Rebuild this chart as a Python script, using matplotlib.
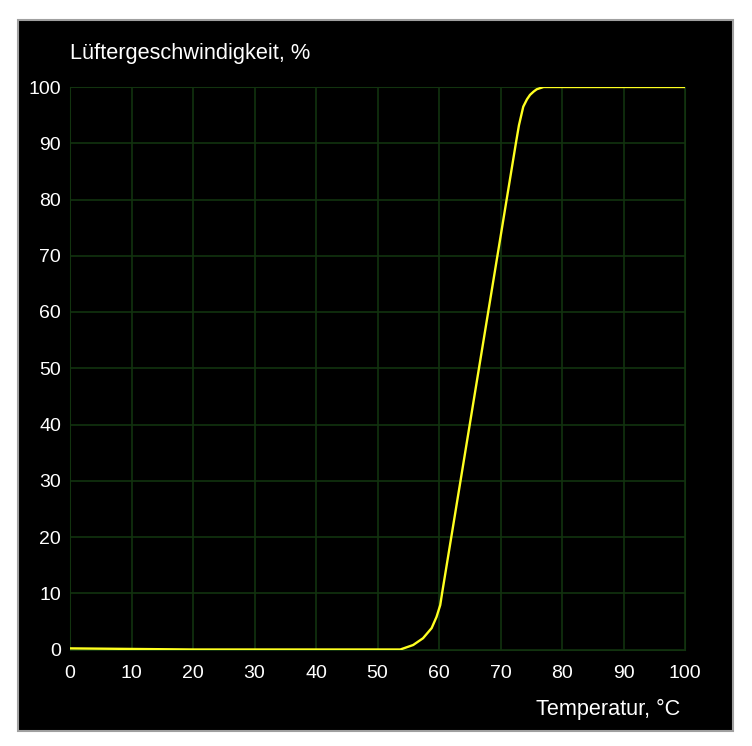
import matplotlib.pyplot as plt
from matplotlib.patches import Rectangle

# Luefterkurve (Temperatur in °C, Drehzahl in %)
temp = [0, 10, 20, 30, 40, 50, 53.7, 55.8, 57.4, 58.8, 59.6, 60.2, 60.5,
        66.5, 72.5, 73, 73.7, 74.3, 74.8, 75.4, 75.9, 77, 80, 90, 100]
speed = [0.2, 0.1, 0, 0, 0, 0, 0, 0.8, 2.0, 3.8, 5.8, 7.9, 10,
         50, 90, 93.2, 96.5, 97.8, 98.6, 99.2, 99.6, 100, 100, 100, 100]

xticks = list(range(0, 101, 10))
yticks = list(range(0, 101, 10))

plt.rcParams['font.family'] = ['Liberation Sans', 'DejaVu Sans']

fig = plt.figure(figsize=(7.52, 7.46), dpi=100)
fig.patch.set_facecolor('white')

# schwarzer Hintergrund mit grauem Rand
fig.patches.append(Rectangle((18 / 752, 1 - 731 / 746), 715 / 752, 711 / 746,
                             transform=fig.transFigure, facecolor='black',
                             edgecolor='#a0a0a0', linewidth=1.5, zorder=-1))

ax = fig.add_axes([70 / 752, 1 - 649.5 / 746, 615 / 752, 562.5 / 746])
ax.set_facecolor('black')
ax.plot(temp, speed, color='#ffff20', linewidth=1.7, zorder=3)

ax.set_xlim(0, 100)
ax.set_ylim(0, 100)
ax.set_xticks(xticks)
ax.set_yticks(yticks)
ax.grid(True, color='#12330f', linewidth=1.2)
ax.tick_params(colors='white', labelsize=14, length=0)
ax.tick_params(axis='x', pad=11)
ax.tick_params(axis='y', pad=6.5)
for s in ax.spines.values():
    s.set_color('#12330f')

fig.text(70 / 752, 1 - 53 / 746, 'Lüftergeschwindigkeit, %', color='white',
         fontsize=15.7, ha='left', va='center')
fig.text(680 / 752, 1 - 709 / 746, 'Temperatur, °C', color='white',
         fontsize=15.6, ha='right', va='center')

fig.savefig('out.png', dpi=100, facecolor=fig.get_facecolor())
